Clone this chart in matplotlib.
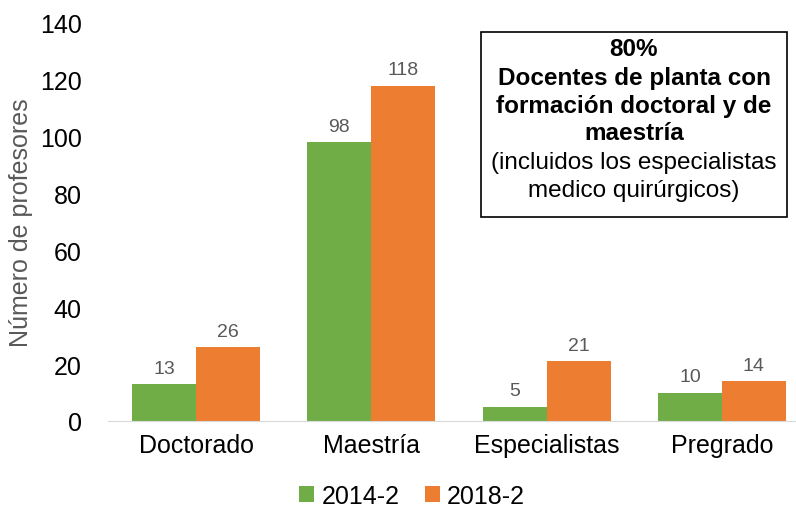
import matplotlib.pyplot as plt
import numpy as np
from matplotlib.patches import Rectangle

plt.rcParams['font.family'] = ['Liberation Sans', 'DejaVu Sans']

categories = ['Doctorado', 'Maestría', 'Especialistas', 'Pregrado']
series_names = ['2014-2', '2018-2']
values_2014 = [13, 98, 5, 10]
values_2018 = [26, 118, 21, 14]
colors = ['#70AD47', '#ED7D31']

box_bold = ['80%', 'Docentes de planta con', 'formación doctoral y de', 'maestría']
box_plain = ['(incluidos los especialistas', 'medico quirúrgicos)']

fig = plt.figure(figsize=(7.96, 5.10), dpi=100)
ax = fig.add_axes([108/796, 1 - 422/510, 687/796, 398/510])

x = np.arange(len(categories))
w = 0.365
bars = []
for i, (vals, name) in enumerate(zip([values_2014, values_2018], series_names)):
    b = ax.bar(x + (i - 0.5) * w, vals, width=w, color=colors[i], label=name)
    bars.append(b)
    for rect, v in zip(b, vals):
        ax.text(rect.get_x() + rect.get_width() / 2, v + 2.6, str(v),
                ha='center', va='bottom', fontsize=14, color='#595959')

ax.set_xlim(-0.502, 3.417)
ax.set_ylim(0, 140)
ax.set_yticks(range(0, 141, 20))
ax.set_xticks(x)
ax.set_xticklabels(categories, fontsize=18)
ax.tick_params(axis='y', length=0, labelsize=18, pad=19)
ax.tick_params(axis='x', length=0, pad=9)
for s in ['top', 'right', 'left']:
    ax.spines[s].set_visible(False)
ax.spines['bottom'].set_color('#D9D9D9')
ax.set_ylabel('Número de profesores', fontsize=18, color='#595959', labelpad=5)

# annotation box
ax.add_patch(Rectangle((0.543, 0.513), 0.445, 0.464, transform=ax.transAxes,
                       fill=False, edgecolor='black', linewidth=1.2, clip_on=False))
line_y = [50, 79, 107, 134, 163, 191]
for txt, yy in zip(box_bold + box_plain, line_y):
    fig.text(634/796, 1 - yy/510, txt, ha='center', va='center', fontsize=17.5,
             fontweight='bold' if txt in box_bold else 'normal')

fig.legend(handles=bars, labels=series_names, loc='center', bbox_to_anchor=(412/796, 1 - 497/510),
           ncol=2, frameon=False, fontsize=18, handlelength=0.6, handleheight=0.6,
           handletextpad=0.3, columnspacing=1.0)

fig.savefig('out.png', dpi=100)
